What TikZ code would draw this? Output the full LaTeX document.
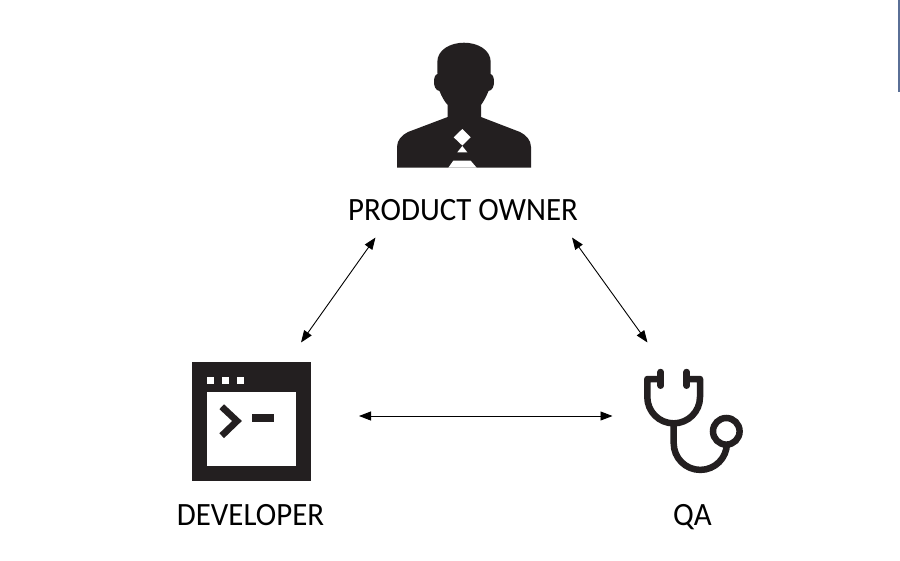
\documentclass[tikz,border=0pt]{standalone}
\usepackage{fontspec}
\setmainfont[FakeStretch=0.95]{Carlito}
\usetikzlibrary{arrows.meta}

\definecolor{icondark}{HTML}{231F20}
\definecolor{barblue}{HTML}{5A6F96}

\tikzset{
  rolelabel/.style={font=\fontsize{32.5}{36}\selectfont, text=black, inner sep=0pt, anchor=base},
  link/.style={black, line width=0.9pt, {Triangle[length=12pt,width=9pt]}-{Triangle[length=12pt,width=9pt]}},
  tube/.style={icondark, line width=6.5pt}
}

\begin{document}
\begin{tikzpicture}[x=1pt,y=-1pt]

% Page frame
\useasboundingbox (0,0) rectangle (900,560);
\fill[white] (0,0) rectangle (900,560);

% Bar at the top right
\fill[barblue] (897.7,0) rectangle (900,92);

% Product owner, head and shoulders
\fill[icondark] (397,167.7) -- (397,147)
  .. controls (397,140) and (402,135) .. (408,132)
  -- (447.7,117) -- (447.7,105)
  .. controls (444,101) and (441.5,96) .. (439.5,91)
  .. controls (435.5,90.5) and (434,86) .. (434,82)
  .. controls (434,78) and (435,74.5) .. (437.5,74)
  -- (437.3,62)
  .. controls (437.3,50) and (450,42.7) .. (464,42.7)
  .. controls (478,42.7) and (490.7,50) .. (490.7,62)
  -- (490.5,74)
  .. controls (493,74.5) and (494,78) .. (494,82)
  .. controls (494,86) and (492.5,90.5) .. (488.5,91)
  .. controls (486.5,96) and (484,101) .. (481,105)
  -- (481,117) -- (520,132)
  .. controls (526,135) and (531,140) .. (531,147)
  -- (531,167.7) -- cycle;

% Tie and collar
\fill[white] (462.3,129) -- (470.7,137.3) -- (462.3,145.5) -- (453.7,137.3) -- cycle;
\fill[white] (462.3,146) -- (467.3,152.3) -- (457.3,152.3) -- cycle;
\fill[white] (453.3,160.7) -- (470.7,160.7) -- (476.7,167.7) -- (448.3,167.7) -- cycle;

% Developer, terminal window
\fill[icondark] (192,362) rectangle (310.7,480.7);
\fill[white] (206.7,391.7) rectangle (296,466);
\foreach \x in {206.7,221.7,236.7}
  \fill[white] (\x,376.7) rectangle ++(7.6,7.6);
\draw[icondark, line width=6.7pt, miter limit=4] (221.7,406.7) -- (237,421) -- (221.7,435.7);
\fill[icondark] (251.7,414.3) rectangle (274,421.7);

% QA, stethoscope
\draw[tube, line cap=round] (660.7,372) -- (660.7,385.7);
\draw[tube, line cap=round] (686.7,372) -- (686.7,385.7);
\draw[tube, line join=round] (660.7,379) -- (647.3,379) -- (647.3,397)
  arc[start angle=180, end angle=0, radius=26.35] -- (700,379) -- (686.7,379);
\draw[tube] (673.7,423) -- (673.7,443.3) arc[start angle=180, end angle=0, radius=26.6];
\draw[tube] (726.3,431.3) circle (13.3);

% Role labels
\node[rolelabel] (owner) at (463,220.2) {PRODUCT OWNER};
\node[rolelabel] (developer) at (250.5,525) {DEVELOPER};
\node[rolelabel] (qa) at (692.5,525) {QA};

% Arrow ends
\coordinate (ownerleft) at (375.5,237.5);
\coordinate (ownerright) at (572,237.5);
\coordinate (devtop) at (301,342.5);
\coordinate (qatop) at (647.5,342.5);
\coordinate (devright) at (359,416);
\coordinate (qaleft) at (612.5,416);

% Arrows
\draw[link] (ownerleft) -- (devtop);
\draw[link] (ownerright) -- (qatop);
\draw[link] (devright) -- (qaleft);

\end{tikzpicture}
\end{document}
